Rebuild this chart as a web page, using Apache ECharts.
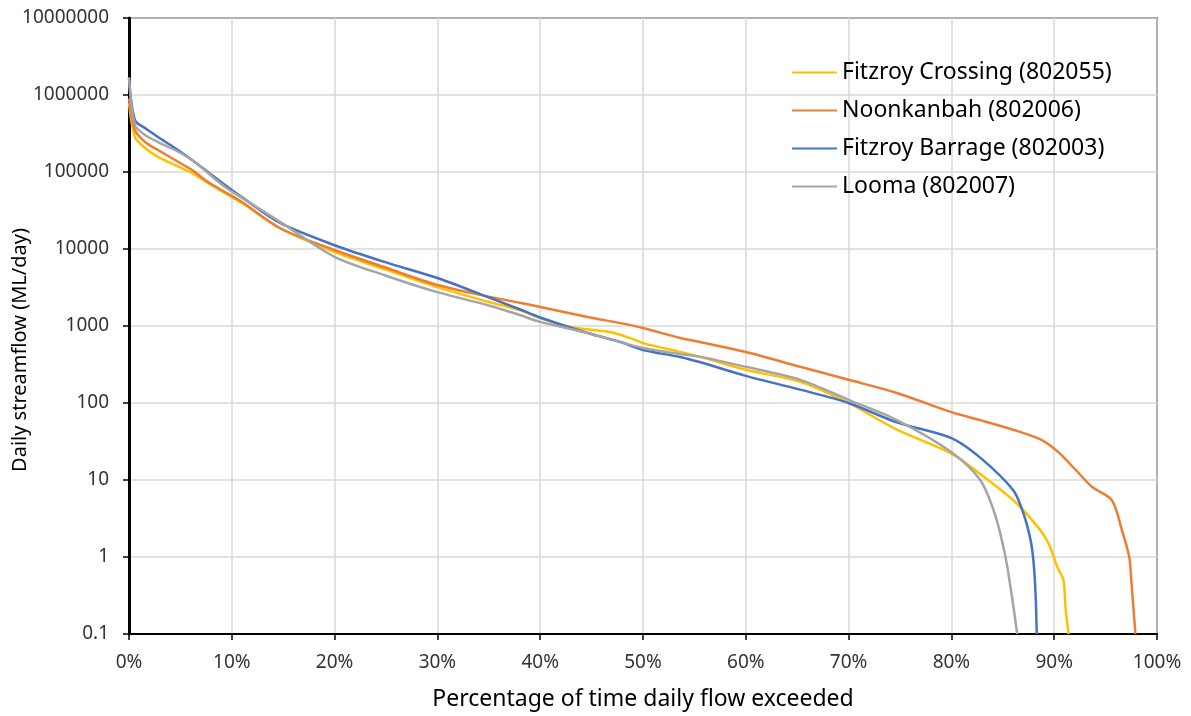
<!DOCTYPE html>
<html>
<head>
<meta charset="utf-8">
<script src="https://cdn.jsdelivr.net/npm/echarts@6/dist/echarts.min.js"></script>
<style>
  html, body { margin: 0; padding: 0; background: #fff; }
  #flow-chart { width: 1191px; height: 716px; }
</style>
</head>
<body>
<div id="flow-chart"></div>
<script>
// percentage of time exceeded (x) and daily streamflow ML/day (y)
var crossingX = [0, 0.58, 1.56, 2.82, 4.47, 6.13, 7.68, 9.34, 11, 14.7, 20, 25, 30, 35, 38, 40, 42.9, 46.8, 48.7, 50, 53.6, 55.5, 60, 65.3, 70, 74.7, 80, 82.8, 86, 87.6, 88.9, 89.6, 90.3, 90.9, 91.1, 91.4];
var crossingY = [790000, 285000, 205000, 157000, 123000, 97000, 72000, 53000, 39500, 18600, 9100, 5400, 3200, 2050, 1610, 1270, 970, 835, 700, 600, 460, 400, 270, 188, 100, 45, 22, 12, 5.5, 3.3, 2.0, 1.35, 0.74, 0.5, 0.22, 0.1];

var noonkanbahX = [0, 0.58, 1.56, 2.82, 4.47, 6.13, 7.68, 9.34, 11, 14.7, 20, 25, 30, 35, 38, 40, 44.6, 47.8, 50, 53.6, 55.5, 60, 65.3, 70, 74.7, 80, 82.8, 86, 88.8, 90.4, 92.1, 93.7, 95.6, 96.6, 97.3, 97.5, 97.9];
var noonkanbahY = [900000, 351000, 245000, 193000, 143000, 106000, 74000, 55000, 40700, 18600, 9700, 5700, 3400, 2400, 2000, 1770, 1310, 1090, 940, 700, 620, 460, 295, 200, 135, 76, 60, 45, 33, 23, 13.5, 8.1, 5.5, 2.2, 1.0, 0.5, 0.1];

var barrageX = [0, 0.58, 1.56, 2.82, 4.47, 6.13, 7.68, 9.34, 11, 14.7, 20, 25, 30, 35, 38, 40, 44.6, 47.8, 50, 53.6, 55.5, 60, 65.3, 70, 74.7, 80, 82.8, 86, 87, 87.7, 88.0, 88.2, 88.3];
var barrageY = [1660000, 473000, 372000, 285000, 205000, 143000, 100000, 68000, 47000, 21800, 11200, 6700, 4200, 2350, 1650, 1290, 810, 620, 488, 396, 340, 225, 149, 100, 56, 35, 19.5, 7.4, 3.7, 1.66, 0.83, 0.3, 0.1];

var loomaX = [0, 0.58, 1.56, 2.82, 4.47, 6.13, 7.68, 9.34, 11, 14.7, 20, 25, 30, 35, 38, 40, 44.6, 50, 53.6, 55.5, 60, 65.3, 70, 74.7, 80, 82.8, 84.2, 85.2, 85.9, 86.4];
var loomaY = [1700000, 408000, 302000, 245000, 193000, 143000, 97000, 64000, 46000, 22500, 7900, 4500, 2750, 1850, 1390, 1130, 810, 518, 433, 400, 295, 200, 110, 60, 23, 10, 3.7, 1.1, 0.3, 0.1];

var seriesNames = ['Fitzroy Crossing (802055)', 'Noonkanbah (802006)', 'Fitzroy Barrage (802003)', 'Looma (802007)'];
var seriesColors = ['#FFC000', '#ED7D31', '#4472C4', '#A5A5A5'];

function pairs(xs, ys) {
    var out = [];
    for (var i = 0; i < xs.length; i++) {
        out.push([xs[i], ys[i]]);
    }
    return out;
}

var seriesData = [
    pairs(crossingX, crossingY),
    pairs(noonkanbahX, noonkanbahY),
    pairs(barrageX, barrageY),
    pairs(loomaX, loomaY)
];

var font = '"Noto Sans", "Open Sans", sans-serif';

var flowChart = echarts.init(document.getElementById('flow-chart'));
var option = {
    backgroundColor: '#fff',
    animation: false,
    textStyle: { fontFamily: font },
    grid: {
        left: 129,
        right: 34,
        top: 18,
        bottom: 82,
        outerBoundsMode: 'none',
        containLabel: false,
        show: true,
        borderColor: '#000',
        borderWidth: 1.5
    },
    legend: {
        orient: 'vertical',
        left: 792,
        top: 61,
        padding: 0,
        itemWidth: 45,
        itemHeight: 20,
        itemGap: 15,
        icon: 'path://M0,9 L45,9 L45,11 L0,11 Z',
        textStyle: { fontSize: 23, color: '#000', fontFamily: font },
        data: seriesNames
    },
    xAxis: {
        type: 'value',
        min: 0,
        max: 100,
        interval: 10,
        name: 'Percentage of time daily flow exceeded',
        nameLocation: 'middle',
        nameGap: 54,
        nameMoveOverlap: false,
        nameTextStyle: { fontSize: 23, color: '#000' },
        axisLine: { lineStyle: { color: '#000', width: 2 } },
        axisTick: { show: true, length: 6, lineStyle: { color: '#000', width: 1.5 } },
        axisLabel: { formatter: '{value}%', fontSize: 19, color: '#333', margin: 19 },
        splitLine: { show: true, lineStyle: { color: '#D9D9D9', width: 1.5 } }
    },
    yAxis: {
        type: 'log',
        logBase: 10,
        min: 0.1,
        max: 10000000,
        interval: 1,
        name: 'Daily streamflow (ML/day)',
        nameLocation: 'middle',
        nameGap: 99,
        nameMoveOverlap: false,
        nameTextStyle: { fontSize: 20, color: '#000', padding: [0, 48, 0, 0] },
        axisLine: { show: true, lineStyle: { color: '#000', width: 3 } },
        axisTick: { show: true, length: 6, lineStyle: { color: '#000', width: 1.5 } },
        axisLabel: {
            fontSize: 19,
            color: '#333',
            margin: 20,
            formatter: function (v) {
                return v < 1 ? v.toFixed(1) : String(Math.round(v));
            }
        },
        splitLine: { show: true, lineStyle: { color: '#D9D9D9', width: 1.5 } }
    },
    series: seriesNames.map(function (name, i) {
        return {
            name: name,
            type: 'line',
            data: seriesData[i],
            smooth: 0.3,
            symbol: 'none',
            color: seriesColors[i],
            lineStyle: { width: 2.5, color: seriesColors[i] }
        };
    })
};
flowChart.setOption(option);
</script>
</body>
</html>
